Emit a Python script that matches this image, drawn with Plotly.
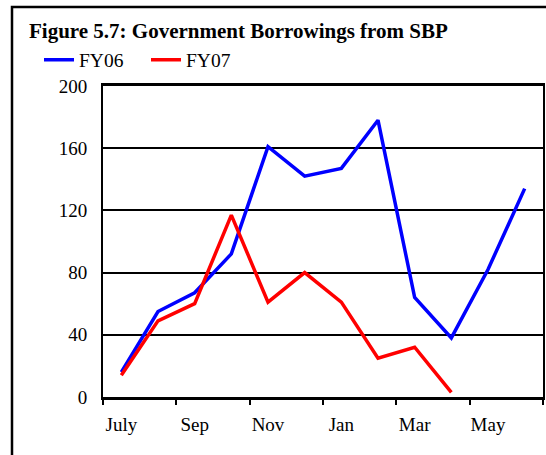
import plotly.graph_objects as go

months = ["July", "Aug", "Sep", "Oct", "Nov", "Dec", "Jan", "Feb", "Mar", "Apr", "May", "Jun"]
fy06 = [16, 55, 67, 92, 161, 142, 147, 178, 64, 38, 82, 134]
fy07 = [14, 49, 60, 117, 61, 80, 61, 25, 32, 3]
y_ticks = [0, 40, 80, 120, 160, 200]
title = "Figure 5.7: Government Borrowings from SBP"

SERIF = "Liberation Serif, Times New Roman, serif"

x06 = list(range(len(fy06)))
x07 = list(range(len(fy07)))
label_idx = list(range(0, len(months), 2))
boundaries = [i - 0.5 for i in range(0, len(months) + 1, 2)]

fig = go.Figure()
fig.add_trace(go.Scatter(x=x06, y=fy06, mode="lines", name="FY06",
                         line=dict(color="#0000FF", width=3.5)))
fig.add_trace(go.Scatter(x=x07, y=fy07, mode="lines", name="FY07",
                         line=dict(color="#FF0000", width=3.5)))

fig.update_layout(
    width=546, height=455,
    margin=dict(l=103, r=3, t=86, b=58, pad=0, autoexpand=False),
    paper_bgcolor="white", plot_bgcolor="white",
    font=dict(family=SERIF, size=19, color="black"),
    title=dict(text="<b>" + title + "</b>", font=dict(family=SERIF, size=21, color="black"),
               xref="container", x=29 / 546, xanchor="left",
               yref="container", y=1 - 31 / 455, yanchor="middle"),
    showlegend=True,
    legend=dict(orientation="h", xref="paper", x=(39 - 103) / 440, xanchor="left",
                yref="paper", y=(396.7 - 60) / 310.7, yanchor="middle",
                font=dict(family=SERIF, size=19.5, color="black"),
                bgcolor="rgba(0,0,0,0)", borderwidth=0,
                entrywidth=62, entrywidthmode="pixels", tracegroupgap=0),
    xaxis=dict(range=[-0.5, len(months) - 0.5], tickmode="array",
               tickvals=label_idx, ticktext=[months[i] for i in label_idx],
               ticks="", showgrid=False, zeroline=False,
               showline=True, linecolor="black", linewidth=2.5, mirror=True,
               ticklabelstandoff=8,
               minor=dict(tickmode="array", tickvals=boundaries, ticks="outside",
                          ticklen=5, tickwidth=2, tickcolor="black", showgrid=False)),
    yaxis=dict(range=[0, 200], tickmode="array", tickvals=y_ticks,
               ticks="", showgrid=True, gridcolor="black", gridwidth=1.7,
               zeroline=False, showline=True, linecolor="black", linewidth=2, mirror=True,
               ticklabelstandoff=10),
    shapes=[dict(type="rect", xref="paper", yref="paper",
                 x0=(12 - 103) / 440, x1=1.05, y0=-0.3, y1=(396.7 - 7) / 310.7,
                 line=dict(color="black", width=2.5), fillcolor="rgba(0,0,0,0)", layer="below")],
)

fig.write_html("out.html", config={"displayModeBar": False},
               post_script="document.body.style.margin='0';document.body.style.overflow='hidden';")
